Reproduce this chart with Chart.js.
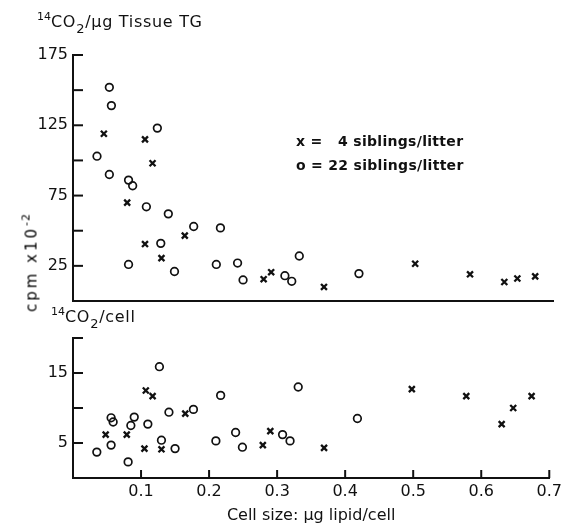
<!DOCTYPE html>
<html>
<head>
<meta charset="utf-8">
<script src="https://cdn.jsdelivr.net/npm/chart.js@4"></script>
<style>
  body { margin: 0; background: #fff; }
  #wrap { position: relative; width: 566px; height: 529px; font-family: "DejaVu Sans", sans-serif; color: #111; }
  canvas { position: absolute; left: 0; }
  .lbl { position: absolute; white-space: pre; font-size: 16px; letter-spacing: 0.7px; }
  .lbl sup { font-size: 11px; vertical-align: 7px; letter-spacing: 0; }
  .lbl sub { font-size: 13px; vertical-align: -6px; }
  .leg { position: absolute; white-space: pre; font-size: 14px; font-weight: bold; letter-spacing: 0.3px; }
  .ytitle { position: absolute; left: -30px; top: 252px; width: 120px; text-align: center; white-space: pre;
            font-size: 15px; letter-spacing: 3px; color: #000; transform: rotate(-90deg); }
  .ytitle sup { font-size: 11px; vertical-align: 7px; letter-spacing: 1px; }
</style>
</head>
<body>
<div id="wrap">
  <canvas id="top" width="566" height="320" style="top:0"></canvas>
  <canvas id="bottom" width="566" height="209" style="top:320px"></canvas>
  <div class="lbl" style="left:37px; top:10px;"><sup>14</sup>CO<sub>2</sub>/μg Tissue TG</div>
  <div class="lbl" style="left:51px; top:305px;"><sup>14</sup>CO<sub>2</sub>/cell</div>
  <div class="leg" style="left:296px; top:133px;">x =   4 siblings/litter</div>
  <div class="leg" style="left:296px; top:157px;">o = 22 siblings/litter</div>
  <div class="ytitle">cpm x10<sup>-2</sup></div>
</div>
<script>
// top panel: 14CO2 per ug tissue TG (cpm x 10^-2)
const topSize22 = [0.053, 0.056, 0.123, 0.035, 0.053, 0.081, 0.087, 0.107, 0.139, 0.176, 0.215, 0.128, 0.081, 0.148, 0.209, 0.240, 0.248, 0.330, 0.309, 0.319, 0.417];
const topCpm22  = [152, 139, 123, 103, 90, 86, 82, 67, 62, 53, 52, 41, 26, 21, 26, 27, 15, 32, 18, 14, 19.5];
const topSize4  = [0.045, 0.105, 0.116, 0.079, 0.105, 0.129, 0.163, 0.278, 0.289, 0.366, 0.499, 0.579, 0.629, 0.648, 0.674];
const topCpm4   = [119, 115, 98, 70, 40.5, 30.5, 46.5, 15.5, 20.5, 10, 26.5, 19, 13.5, 16, 17.5];

// bottom panel: 14CO2 per cell
const botSize22 = [0.127, 0.217, 0.056, 0.059, 0.090, 0.085, 0.110, 0.141, 0.177, 0.035, 0.056, 0.081, 0.130, 0.150, 0.210, 0.239, 0.249, 0.308, 0.319, 0.331, 0.418];
const botCpm22  = [15.9, 11.8, 8.6, 8.0, 8.7, 7.5, 7.7, 9.4, 9.8, 3.7, 4.7, 2.3, 5.4, 4.2, 5.3, 6.5, 4.4, 6.2, 5.3, 13.0, 8.5];
const botSize4  = [0.048, 0.079, 0.107, 0.117, 0.105, 0.130, 0.165, 0.279, 0.290, 0.369, 0.498, 0.578, 0.630, 0.647, 0.674];
const botCpm4   = [6.2, 6.2, 12.5, 11.7, 4.2, 4.1, 9.2, 4.7, 6.7, 4.3, 12.7, 11.7, 7.7, 10.0, 11.7];

const xTickLabels = ['0.1', '0.2', '0.3', '0.4', '0.5', '0.6', '0.7'];

const ink = '#111';
const font = { family: 'DejaVu Sans', size: 16 };

function pts(xs, ys) {
  return xs.map((x, i) => ({ x: x, y: ys[i] }));
}

function sets(xs22, ys22, xs4, ys4) {
  return [
    { label: '22 siblings/litter', data: pts(xs22, ys22), pointStyle: 'circle', pointRadius: 3.8,
      borderColor: ink, backgroundColor: 'rgba(0,0,0,0)', pointBorderWidth: 1.7, showLine: false },
    { label: '4 siblings/litter', data: pts(xs4, ys4), pointStyle: 'crossRot', pointRadius: 4.2,
      borderColor: ink, pointBorderWidth: 2.3, showLine: false }
  ];
}

// ticks in the original point into the plot area
const inwardTicks = {
  id: 'inwardTicks',
  afterDraw(chart, args, opts) {
    const ctx = chart.ctx, a = chart.chartArea;
    ctx.save();
    ctx.strokeStyle = ink;
    ctx.lineWidth = 2;
    const y = chart.scales.y;
    y.ticks.forEach(t => {
      if (t.value === y.min) return;
      const p = y.getPixelForValue(t.value);
      ctx.beginPath(); ctx.moveTo(a.left, p); ctx.lineTo(a.left + 10, p); ctx.stroke();
    });
    if (opts.xTicks) {
      const x = chart.scales.x;
      x.ticks.forEach(t => {
        if (t.value === x.min) return;
        const p = x.getPixelForValue(t.value);
        ctx.beginPath(); ctx.moveTo(p, a.bottom); ctx.lineTo(p, a.bottom - 8); ctx.stroke();
      });
    }
    ctx.restore();
  }
};

function makeChart(id, datasets, yMax, yStep, yShow, xShow, xHeight, padTop) {
  return new Chart(document.getElementById(id), {
    type: 'scatter',
    data: { datasets: datasets },
    options: {
      responsive: false,
      animation: false,
      layout: { padding: { top: padTop, right: 13, left: 0, bottom: 0 } },
      plugins: { legend: { display: false }, tooltip: { enabled: false }, inwardTicks: { xTicks: xShow } },
      scales: {
        x: {
          min: 0, max: 0.7,
          afterFit: s => { s.height = xHeight; },
          grid: { display: false, drawTicks: false },
          border: { display: true, color: ink, width: 2 },
          ticks: {
            display: xShow, stepSize: 0.1, color: ink, font: font, padding: 4, maxRotation: 0,
            callback: v => { const i = Math.round(v * 10) - 1; return i >= 0 ? xTickLabels[i] : ''; }
          },
          title: { display: xShow, text: 'Cell size: μg lipid/cell', color: ink, font: font, padding: { top: 1 } }
        },
        y: {
          min: 0, max: yMax,
          afterFit: s => { s.width = 73; },
          grid: { display: false, drawTicks: false },
          border: { display: true, color: ink, width: 2 },
          ticks: { stepSize: yStep, color: ink, font: font, padding: 5, callback: v => yShow.includes(v) ? String(v) : '' }
        }
      }
    },
    plugins: [inwardTicks]
  });
}

makeChart('top', sets(topSize22, topCpm22, topSize4, topCpm4), 175, 25, [25, 75, 125, 175], false, 19, 55);
makeChart('bottom', sets(botSize22, botCpm22, botSize4, botCpm4), 20, 5, [5, 15], true, 51, 18);
</script>
</body>
</html>
